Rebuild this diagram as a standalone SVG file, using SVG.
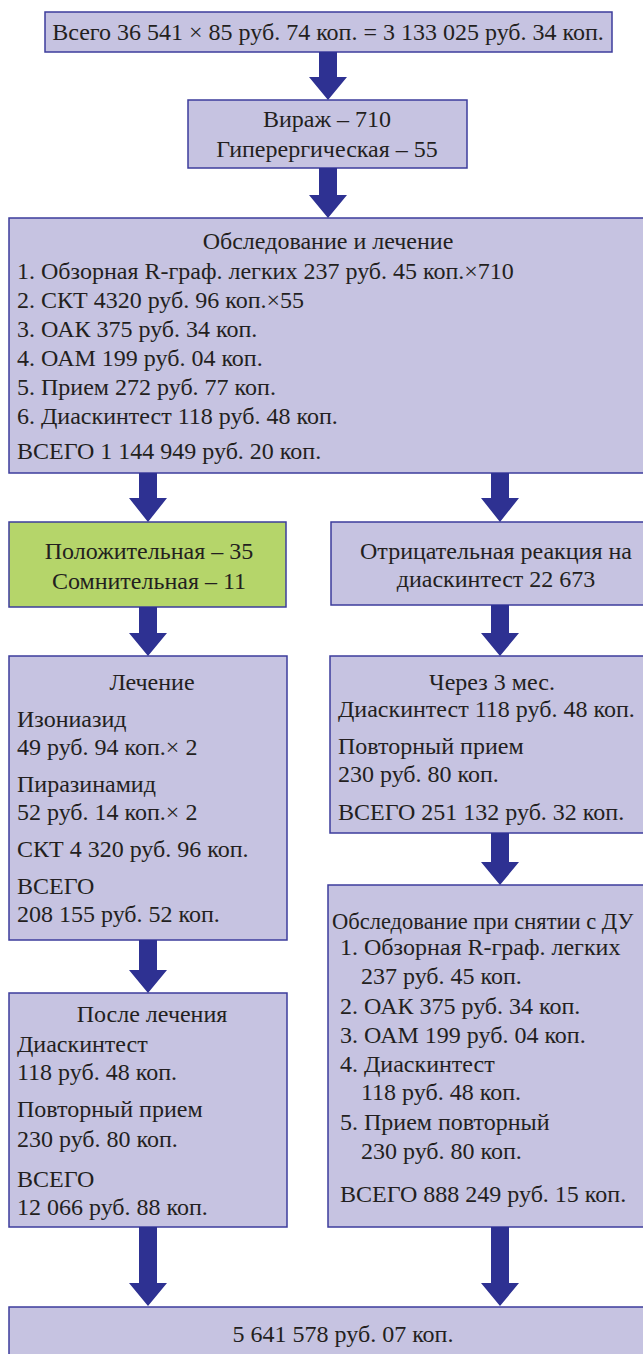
<svg xmlns="http://www.w3.org/2000/svg" width="643" height="1354" viewBox="0 0 643 1354">
<style>
.box{fill:#c6c3e1;stroke:#3c3c9c;stroke-width:1.5}
.green{fill:#b5d56a;stroke:#3c3c9c;stroke-width:1.5}
text{font-family:"Liberation Serif","Times New Roman",serif;font-size:24px;fill:#231f20}
.c{text-anchor:middle}
.arrow{fill:#2e3192}
</style>
<rect x="0" y="0" width="643" height="1354" fill="#ffffff"/>
<g id="n-total">
<rect class="box" x="45" y="12" width="567" height="40"/>
<text class="c" x="328" y="40">Всего 36 541 × 85 руб. 74 коп. = 3 133 025 руб. 34 коп.</text>
</g>
<g id="n-viraj">
<rect class="box" x="188" y="100" width="279" height="68"/>
<text class="c" x="327" y="127">Вираж – 710</text>
<text class="c" x="327" y="157">Гиперергическая – 55</text>
</g>
<g id="n-exam">
<rect class="box" x="9" y="218" width="680" height="255"/>
<text class="c" x="328" y="249">Обследование и лечение</text>
<text x="17" y="279">1. Обзорная R-граф. легких 237 руб. 45 коп.×710</text>
<text x="17" y="308">2. СКТ 4320 руб. 96 коп.×55</text>
<text x="17" y="337">3. ОАК 375 руб. 34 коп.</text>
<text x="17" y="366">4. ОАМ 199 руб. 04 коп.</text>
<text x="17" y="395">5. Прием 272 руб. 77 коп.</text>
<text x="17" y="424">6. Диаскинтест 118 руб. 48 коп.</text>
<text x="17" y="459">ВСЕГО 1 144 949 руб. 20 коп.</text>
</g>
<g id="n-positive">
<rect class="green" x="9" y="522" width="277" height="85"/>
<text class="c" x="149" y="559">Положительная – 35</text>
<text class="c" x="149" y="589">Сомнительная – 11</text>
</g>
<g id="n-negative">
<rect class="box" x="331" y="522" width="350" height="83"/>
<text class="c" x="496" y="559">Отрицательная реакция на</text>
<text class="c" x="496" y="587">диаскинтест 22 673</text>
</g>
<g id="n-treatment">
<rect class="box" x="9" y="656" width="278" height="284"/>
<text class="c" x="152" y="690">Лечение</text>
<text x="17" y="727">Изониазид</text>
<text x="17" y="755">49 руб. 94 коп.× 2</text>
<text x="17" y="792">Пиразинамид</text>
<text x="17" y="820">52 руб. 14 коп.× 2</text>
<text x="17" y="857">СКТ 4 320 руб. 96 коп.</text>
<text x="17" y="894">ВСЕГО</text>
<text x="17" y="922">208 155 руб. 52 коп.</text>
</g>
<g id="n-3months">
<rect class="box" x="330" y="656" width="350" height="177"/>
<text class="c" x="492" y="690">Через 3 мес.</text>
<text x="338" y="717">Диаскинтест 118 руб. 48 коп.</text>
<text x="338" y="754">Повторный прием</text>
<text x="338" y="782">230 руб. 80 коп.</text>
<text x="338" y="820">ВСЕГО 251 132 руб. 32 коп.</text>
</g>
<g id="n-after">
<rect class="box" x="9" y="993" width="278" height="234"/>
<text class="c" x="152" y="1022">После лечения</text>
<text x="17" y="1052">Диаскинтест</text>
<text x="17" y="1080">118 руб. 48 коп.</text>
<text x="17" y="1117">Повторный прием</text>
<text x="17" y="1147">230 руб. 80 коп.</text>
<text x="17" y="1187">ВСЕГО</text>
<text x="17" y="1215">12 066 руб. 88 коп.</text>
</g>
<g id="n-deregister">
<rect class="box" x="328" y="885" width="352" height="342"/>
<text x="332" y="929" style="font-size:22.5px">Обследование при снятии с ДУ</text>
<text x="340" y="955">1. Обзорная R-граф. легких</text>
<text x="361" y="984">237 руб. 45 коп.</text>
<text x="340" y="1014">2. ОАК 375 руб. 34 коп.</text>
<text x="340" y="1043">3. ОАМ 199 руб. 04 коп.</text>
<text x="340" y="1072">4. Диаскинтест</text>
<text x="361" y="1100">118 руб. 48 коп.</text>
<text x="340" y="1130">5. Прием повторный</text>
<text x="361" y="1159">230 руб. 80 коп.</text>
<text x="340" y="1202">ВСЕГО 888 249 руб. 15 коп.</text>
</g>
<g id="n-result">
<rect class="box" x="9" y="1307" width="680" height="80"/>
<text class="c" x="343" y="1342">5 641 578 руб. 07 коп.</text>
</g>
<g id="connectors">
<polygon class="arrow" points="319,52 337,52 337,77 347,77 328,100 309,77 319,77"/>
<polygon class="arrow" points="319,168 337,168 337,195 347,195 328,218 309,195 319,195"/>
<polygon class="arrow" points="139,473 157,473 157,498 167,498 148,522 129,498 139,498"/>
<polygon class="arrow" points="491,473 509,473 509,498 519,498 500,522 481,498 491,498"/>
<polygon class="arrow" points="139,607 157,607 157,633 167,633 148,656 129,633 139,633"/>
<polygon class="arrow" points="491,605 509,605 509,633 519,633 500,656 481,633 491,633"/>
<polygon class="arrow" points="139,940 157,940 157,970 167,970 148,993 129,970 139,970"/>
<polygon class="arrow" points="491,833 509,833 509,862 519,862 500,885 481,862 491,862"/>
<polygon class="arrow" points="139,1227 157,1227 157,1283 167,1283 148,1306 129,1283 139,1283"/>
<polygon class="arrow" points="491,1227 509,1227 509,1283 519,1283 500,1306 481,1283 491,1283"/>
</g>
</svg>
